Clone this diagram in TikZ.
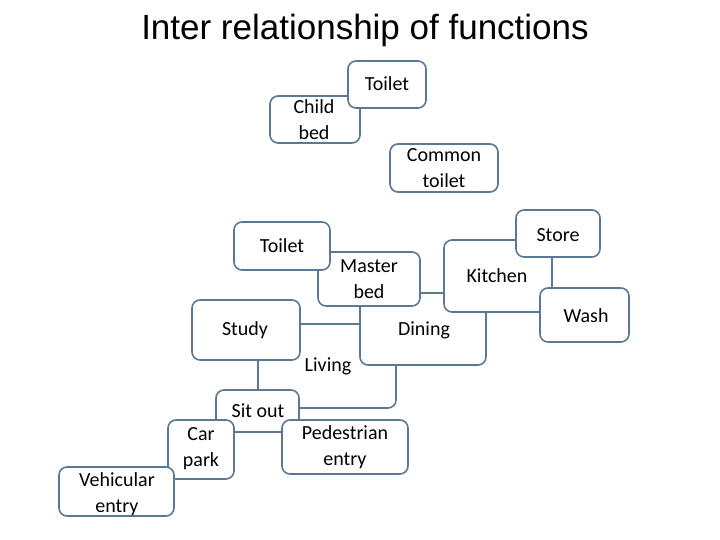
\documentclass[tikz,border=0pt]{standalone}
\usepackage{fontspec}
\setmainfont{Carlito}
\newfontfamily\titlefont{Liberation Sans}
\begin{document}
\begin{tikzpicture}[x=1pt,y=-1pt,
  box/.style={draw=boxc,fill=white,line width=1.6pt,rounded corners=8pt},
  lbl/.style={font=\fontsize{20}{26}\selectfont,align=center,inner sep=0pt}]
\definecolor{boxc}{HTML}{5B7897}
\useasboundingbox (0,0) rectangle (720,540);
\node[font=\titlefont\fontsize{35}{40}\selectfont] (title) at (365,30) {Inter relationship of functions};
% back layers
\draw[box] (258,324) rectangle (396,408);
\draw[box] (360,293) rectangle (486,365);
\draw[box] (444,240) rectangle (552,312);
\draw[box] (318,252) rectangle (420,306);
\draw[box] (234,222) rectangle (330,270);
\draw[box] (516,210) rectangle (600,257);
\draw[box] (540,288) rectangle (629,342);
\draw[box] (192,300) rectangle (300,360);
\draw[box] (216,390) rectangle (299,432);
\draw[box] (168,420) rectangle (234,479);
\draw[box] (282,420) rectangle (408,474);
\draw[box] (59,467) rectangle (174,516);
\draw[box] (270,96) rectangle (360,143);
\draw[box] (348,61) rectangle (426,108);
\draw[box] (390,144) rectangle (498,192);
% labels
\node[lbl] (toilet1) at (387,84) {Toilet};
\node[lbl] (child) at (314,120) {Child\\bed};
\node[lbl] (common) at (444,168) {Common\\toilet};
\node[lbl] (toilet2) at (282,246) {Toilet};
\node[lbl] (master) at (369,279) {Master\\bed};
\node[lbl] (store) at (558,235) {Store};
\node[lbl] (kitchen) at (497,276) {Kitchen};
\node[lbl] (wash) at (586,316) {Wash};
\node[lbl] (dining) at (424,330) {Dining};
\node[lbl] (study) at (245,330) {Study};
\node[lbl] (living) at (328,366) {Living};
\node[lbl] (sitout) at (258,411) {Sit out};
\node[lbl] (car) at (201,449) {Car\\park};
\node[lbl] (ped) at (345,447) {Pedestrian\\entry};
\node[lbl] (veh) at (117,494) {Vehicular\\entry};
\end{tikzpicture}
\end{document}
